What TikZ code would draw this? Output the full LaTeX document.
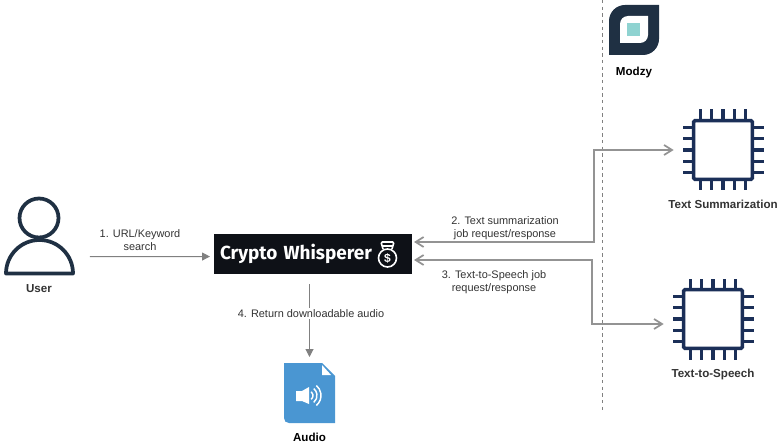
\documentclass[tikz,border=0pt]{standalone}
\usepackage{fontspec}
\usepackage{xcolor}
\usepackage{tikz}
\usetikzlibrary{arrows.meta, positioning}
\setmainfont{Liberation Sans}
\newfontfamily\logofont{Fira Sans}
\definecolor{linegray}{RGB}{128, 128, 128}
\definecolor{textgray}{RGB}{51, 51, 51}
\definecolor{userdark}{RGB}{31, 48, 67}
\definecolor{chipblue}{RGB}{27, 47, 88}
\definecolor{whisperblack}{RGB}{14, 17, 23}
\definecolor{audioblue}{RGB}{74, 150, 210}
\definecolor{modzyteal}{RGB}{143, 211, 209}

% five pins on each side of a chip
\newcommand{\chippins}[1]{
    \begin{scope}[shift={(#1.center)}]
        \foreach \i in {-2,...,2} {
            \draw[pin] (\i*11.2,-30) -- (\i*11.2,-40.5);
            \draw[pin] (\i*11.2,30) -- (\i*11.2,40.5);
            \draw[pin] (-30,\i*11.2) -- (-40.5,\i*11.2);
            \draw[pin] (30,\i*11.2) -- (40.5,\i*11.2);
        }
    \end{scope}
}

\begin{document}
\begin{tikzpicture}[
    x=0.75pt, y=-0.75pt,
    chip/.style={rectangle, draw=chipblue, fill=white, line width=2.7pt, rounded corners=1pt, minimum size=44pt, inner sep=0pt, outer sep=0pt},
    pin/.style={draw=chipblue, line width=2.5pt},
    icon/.style={rectangle, inner sep=0pt, outer sep=0pt},
    iconlabel/.style={font=\fontsize{8.7}{10}\selectfont\bfseries, text=textgray, inner sep=0pt},
    steplabel/.style={font=\fontsize{8.2}{9.75}\selectfont, text=textgray, align=center, inner sep=0pt},
    jobarrow/.style={draw=linegray!85, line width=1.3pt, {Straight Barb[length=6pt,width=7.5pt]}-{Straight Barb[length=6pt,width=7.5pt]}},
    flowarrow/.style={draw=linegray, line width=0.75pt, -{Triangle[length=6pt,width=6pt]}}
]
    \useasboundingbox (0,0) rectangle (780,445);

    % Modzy boundary
    \coordinate (boundtop) at (602,0);
    \coordinate (boundbottom) at (602,410);
    \draw[linegray, line width=0.75pt, dash pattern=on 2.5pt off 2.5pt] (boundtop) -- (boundbottom);

    % icons
    \node[icon, minimum width=37.5pt, minimum height=37.5pt] (modzy) at (634,30) {};
    \fill[userdark] (609,55) [rounded corners=12pt] -- (609,5) [sharp corners] -- (659,5) [rounded corners=12pt] -- (659,55) [sharp corners] -- cycle;
    \fill[white] (620,43) [rounded corners=6pt] -- (620,16) [sharp corners] -- (648,16) [rounded corners=6pt] -- (648,43) [sharp corners] -- cycle;
    \fill[modzyteal] (627,23) rectangle (640,36);

    \node[icon, circle, draw=userdark, fill=white, line width=2.8pt, minimum size=29.25pt] (head) at (39,218) {};
    \node[icon, minimum width=53pt, minimum height=27.75pt] (user) at (39.5,256.5) {};
    \draw[userdark, line width=2.8pt, line join=round] (6,273.5) arc[start angle=180, end angle=360, radius=33.5] -- cycle;

    \node[icon, fill=whisperblack, minimum width=148.5pt, minimum height=30pt, text width=139.5pt, inner xsep=4.5pt, align=left, text=white, font=\logofont\bfseries\fontsize{14.2}{16}\selectfont] (whisper) at (313,254) {Crypto Whisperer};
    \begin{scope}[white, line width=1.2pt]
        \draw (387.5,258) circle[radius=9];
        \draw[rounded corners=1pt] (383,249) -- (381,242) -- (394,242) -- (392,249);
        \draw (382,246) -- (393,246);
        \node[inner sep=0pt, font=\fontsize{9}{10}\selectfont\bfseries] (dollar) at (387.5,258) {\$};
    \end{scope}

    \node[chip] (summ) at (723,150) {};
    \chippins{summ}
    \node[chip] (speech) at (713,319) {};
    \chippins{speech}

    \node[icon, minimum width=38.25pt, minimum height=45pt] (audio) at (309.5,393) {};
    \fill[audioblue] (284,363) -- (322,363) -- (335,376) -- (335,423) -- (289,423) .. controls (286,423) and (284,421) .. (284,418) -- cycle;
    \fill[white] (322,365) -- (331,375) -- (322,375) -- cycle;
    \fill[white] (296,391) -- (302,391) -- (309,387) -- (309,404) -- (302,401) -- (296,401) -- cycle;
    \foreach \r in {5,9,13} {
        \draw[white, line width=1.1pt] (308,395.5) ++(50:\r) arc[start angle=50, end angle=-50, radius=\r];
    }

    % icon labels
    \node[iconlabel] (userlabel) at (39,288.5) {User};
    \node[iconlabel, text=black] (modzylabel) at (634,73) {Modzy};
    \node[iconlabel, below=15pt of summ] (summlabel) {Text Summarization};
    \node[iconlabel, below=15.5pt of speech] (speechlabel) {Text-to-Speech};
    \node[iconlabel, text=black, below=7pt of audio] (audiolabel) {Audio};

    % connectors
    \coordinate (bendsumm) at (594,150);
    \coordinate (bendspeech) at (592,324);
    \draw[flowarrow, shorten <=11.25pt, shorten >=3pt] (user.east) -- ([yshift=-1.9pt]whisper.west);
    \draw[jobarrow, shorten <=1.5pt, shorten >=15pt] ([yshift=9pt]whisper.east) -| (bendsumm) -- (summ.west);
    \draw[jobarrow, shorten <=1.5pt, shorten >=15pt] ([yshift=-4.5pt]whisper.east) -| (bendspeech) -- ([yshift=-3.75pt]speech.west);
    \draw[flowarrow, shorten <=7.5pt, shorten >=4.5pt] (audio.north |- whisper.south) -- (audio.north);

    % step labels
    \node[steplabel] (steponelabel) at (140,240.5) {1. URL/Keyword\\search};
    \node[steplabel] (steptwolabel) at (505,228) {2. Text summarization\\job request/response};
    \node[steplabel] (stepthreelabel) at (494,282) {3. Text-to-Speech job\\request/response};
    \node[steplabel, fill=white, inner ysep=1pt] (stepfourlabel) at (311,313.5) {4. Return downloadable audio};
\end{tikzpicture}
\end{document}
